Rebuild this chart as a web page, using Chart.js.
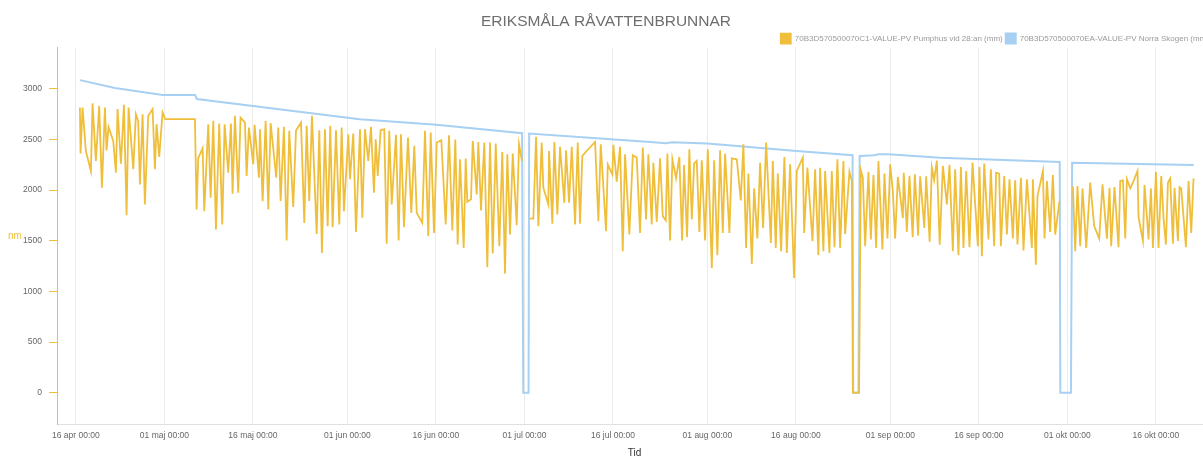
<!DOCTYPE html>
<html>
<head>
    <meta charset="utf-8">
    <title>Eriksmåla råvattenbrunnar</title>
    <script src="https://cdn.jsdelivr.net/npm/chart.js"></script>
    <style>
        html, body {
            margin: 0;
            padding: 0;
            overflow: hidden;
            background: #fff;
        }
        .container {
            position: relative;
            width: 1212px;
            height: 459px;
        }
    </style>
</head>
<body>
    <div class="container">
        <canvas id="myChart"></canvas>
    </div>

    <script>
        // x values are days since 16 apr 00:00
        const tickDays = [0, 15, 30, 46, 61, 76, 91, 107, 122, 138, 153, 168, 183];
        const tickLabels = ['16 apr 00:00', '01 maj 00:00', '16 maj 00:00', '01 jun 00:00', '16 jun 00:00',
            '01 jul 00:00', '16 jul 00:00', '01 aug 00:00', '16 aug 00:00', '01 sep 00:00',
            '16 sep 00:00', '01 okt 00:00', '16 okt 00:00'];
        const yTicks = [0, 500, 1000, 1500, 2000, 2500, 3000];

        // 70B3D570500070C1 - Pumphus vid 28:an
        const pumpDays = [
            0.68, 0.79, 1.13, 1.69, 2.54, 2.82, 3.39, 3.95, 4.41, 4.92,
            5.2, 5.53, 6.33, 6.78, 7.06, 7.63, 8.14, 8.59, 8.93, 9.72,
            10.17, 10.56, 10.85, 11.3, 11.69, 12.26, 13, 13.39, 13.67, 14.12,
            14.69, 15.14, 20.17, 20.45, 20.73, 21.47, 21.75, 22.43, 22.83, 23.28,
            23.73, 24.29, 24.8, 25.2, 25.81, 26.27, 26.55, 26.95, 27.51, 27.9,
            28.64, 28.93, 29.32, 30.05, 30.28, 31.02, 31.19, 31.64, 32.15, 32.6,
            33, 33.95, 34.29, 34.69, 35.25, 35.71, 36.15, 36.83, 37.29, 38.14,
            38.7, 39.1, 39.54, 40, 40.8, 41.24, 41.69, 42.2, 42.66, 43.1,
            43.5, 44.07, 44.63, 45.03, 45.42, 46.16, 46.44, 47, 47.46, 48.14,
            48.53, 48.98, 49.54, 50, 50.51, 50.8, 51.14, 51.64, 52.25, 52.66,
            53.1, 53.51, 54.24, 54.69, 55.08, 55.59, 56.27, 56.83, 57.34, 57.75,
            58.69, 59.15, 59.71, 60.12, 60.68, 61.14, 61.92, 62.66, 63.22, 63.78,
            64.29, 64.69, 65.08, 65.71, 66.05, 66.32, 66.95, 67.24, 67.92, 68.19,
            68.64, 69.2, 69.71, 70.17, 70.63, 71.14, 71.75, 72.25, 72.71, 73.1,
            73.56, 74.02, 74.69, 75.08, 75.59, 76.2, 76.95, 77.51, 77.97, 78.36,
            78.93, 79.2, 80.05, 80.17, 80.73, 81.07, 81.58, 82.03, 82.76, 83.05,
            83.56, 84.02, 84.58, 85.03, 85.42, 85.81, 86.66, 87.97, 88.53, 88.93,
            89.83, 90.12, 90.9, 91.07, 91.64, 92.2, 92.66, 93.05, 93.78, 94.36,
            95.03, 95.59, 96.05, 96.61, 97, 97.57, 97.85, 98.42, 98.98, 99.44,
            99.95, 100.22, 100.68, 101.07, 101.69, 102.25, 102.71, 103.05, 103.56, 103.95,
            104.36, 104.75, 105.2, 105.64, 106.05, 106.61, 107.07, 107.75, 108.14, 108.69,
            109.15, 109.61, 110, 110.73, 111.14, 111.98, 112.66, 113.1, 113.56, 113.95,
            114.53, 114.92, 115.47, 115.93, 116.44, 116.95, 117.75, 118.08, 118.59, 118.93,
            119.49, 120.05, 120.46, 121.02, 121.69, 122.15, 123.17, 123.39, 123.95, 124.81,
            125.25, 125.81, 126.1, 126.66, 126.95, 127.68, 128.08, 128.53, 129.03, 129.49,
            130.05, 130.34, 131.07, 131.47, 131.65, 132.7, 133, 133.34, 133.73, 134.29,
            134.69, 135.14, 135.59, 135.98, 136.66, 137, 137.51, 137.97, 138.42, 138.81,
            139.27, 140.12, 140.27, 140.8, 141.24, 141.78, 142.15, 142.71, 143.05, 143.76,
            144.07, 144.66, 145.03, 145.42, 145.88, 146.36, 146.9, 147.58, 148.02, 148.59,
            148.98, 149.54, 149.95, 150.39, 150.85, 151.41, 151.92, 152.83, 153.1, 153.51,
            153.9, 154.63, 155.03, 155.59, 155.93, 156.44, 156.73, 157.29, 157.75, 158.19,
            158.76, 159.15, 159.54, 160.12, 160.56, 161.14, 161.98, 162.15, 162.66, 162.93,
            163.85, 164.12, 164.53, 165.08, 165.54, 165.93, 166.66, 167.7, 168.93, 169.32,
            169.71, 170.17, 170.56, 171.19, 171.86, 172.54, 173.39, 173.95, 174.69, 175.14,
            175.42, 175.98, 176.66, 176.95, 177.41, 177.8, 178.08, 178.64, 179.2, 179.88,
            180.05, 180.8, 181.07, 181.75, 182.15, 182.49, 183, 183.44, 183.9, 184.29,
            184.69, 185.03, 185.42, 185.88, 186.15, 186.73, 187, 187.29, 188.08, 188.53,
            188.98, 189.37
        ];
        const pumpMm = [
            2815, 2360, 2815, 2386, 2188, 2855, 2287, 2832, 2023, 2815,
            2390, 2624, 2485, 2171, 2799, 2260, 2842, 1752, 2815, 2205,
            2749, 2683, 2056, 2749, 1858, 2733, 2799, 2205, 2650, 2327,
            2766, 2700, 2700, 1809, 2314, 2413, 1792, 2650, 1924, 2683,
            1611, 2657, 1660, 2650, 2171, 2657, 1963, 2733, 1973, 2716,
            2666, 2139, 2617, 2254, 2644, 2122, 2601, 1891, 2683, 1809,
            2660, 2122, 2617, 1891, 2624, 1502, 2584, 1832, 2584, 2666,
            1676, 2634, 1891, 2733, 1567, 2591, 1379, 2601, 1644, 2634,
            1634, 2591, 1660, 2617, 1792, 2551, 2106, 2558, 1587, 2601,
            1726, 2601, 2287, 2624, 1973, 2502, 2139, 2591, 2601, 1469,
            2584, 1858, 2545, 1502, 2551, 1634, 2518, 1775, 2436, 1775,
            1676, 2584, 1545, 2568, 1577, 2469, 2492, 1660, 2541, 1601,
            2498, 1462, 2304, 1429, 2310, 1884, 1908, 2485, 1957, 2475,
            1799, 2469, 1238, 2469, 1373, 2460, 1446, 2376, 1175, 2353,
            1561, 2360, 1653, 2452, 2287, null, 1720, 1716, 2525, 1644,
            2469, 2023, 1858, 2386, 1667, 2475, 1759, 2426, 1874, 2393,
            1874, 2426, 1660, 2469, 1667, 2337, 2393, 2475, 1693, 2452,
            1594, 2254, 2155, 2446, 2082, 2426, 1396, 2353, 1561, 2343,
            2320, 1577, 2419, 1710, 2353, 1660, 2270, 1686, 2313, 1743,
            1700, 2360, 1502, 2304, 2116, 2327, 1502, 2248, 1535, 2403,
            1710, 2260, 2287, 1587, 2294, 1502, 2403, 1231, 2294, 1356,
            2393, 1577, 2360, 1577, 2313, 2304, 1898, 2452, 1429, 2162,
            1270, 2016, 1521, 2270, 1627, 2469, 1478, 2287, 1429, 2162,
            1396, 2327, 1379, 2254, 1132, 2188, 2320, 1577, 2221, 1495,
            2205, 1356, 2221, 1396, 2188, 1379, 2188, 1436, 2304, 1429,
            2287, 1567, 2181, 2089, 0, 0, 2195, 2122, 1446, 2181,
            1513, 2149, 1429, 2287, 1413, 2162, 1521, 2254, 1990, 1521,
            2129, 1725, 2171, 1587, 2140, 1535, 2155, 1550, 2135, 1627,
            2135, 1490, 2221, 2100, 2290, 1460, 2238, 1858, 2248, 1396,
            2205, 1356, 2228, 1429, 2188, 1436, 2271, 1446, 2228, 1347,
            2261, 1513, 2205, 1446, 2171, 2162, 1446, 2139, 1561, 2106,
            1521, 2096, 1462, 2122, 1403, 2106, 1429, 2106, 1264, 1941,
            2188, 1521, 2089, 1587, 2149, 1561, 1891, null, 2035, 1396,
            2040, 1446, 2016, 1429, 2073, 1644, 1521, 2056, 1521, 2023,
            1446, 2030, 1436, 2089, 2096, 1521, 2106, 2016, 2089, 2188,
            1733, 1497, 2050, 1513, 2016, 1429, 2181, 1429, 2139, 1720,
            1462, 2073, 2115, 1470, 2023, 1497, 2030, 2016, 1436, 2089,
            1577, 2115
        ];

        // 70B3D570500070EA - Norra Skogen
        const skogenDays = [0.7, 6.6, 14.7, 20.2, 20.5, 48.1, 61.1, 75.6, 75.8, 76.7,
            76.8, 97.3, 100, 101, 107, 122.1, 131.6, 131.7, 132.6, 132.8,
            135.2, 136, 137.7, 146.4, 166.7, 166.8, 168.6, 168.8, 189.4];
        const skogenMm = [3085, 3007, 2938, 2938, 2898, 2700, 2644, 2561, 0, 0,
            2557, 2475, 2462, 2472, 2459, 2386, 2343, 0, 0, 2337,
            2343, 2353, 2353, 2320, 2277, 0, 0, 2270, 2247];

        const yellow = '#efbf3c';
        const blue = '#a7d0f2';
        const fontFamily = '"Liberation Sans", Arial, Helvetica, sans-serif';

        // horizontal y-axis title, like the original
        const nmLabel = {
            id: 'nmLabel',
            afterDraw(chart) {
                const { ctx, chartArea } = chart;
                ctx.save();
                ctx.font = '10px ' + fontFamily;
                ctx.fillStyle = yellow;
                ctx.textAlign = 'center';
                ctx.textBaseline = 'middle';
                ctx.fillText('nm', 15, (chartArea.top + chartArea.bottom) / 2);
                ctx.restore();
            }
        };

        const ctx = document.getElementById('myChart').getContext('2d');
        new Chart(ctx, {
            type: 'line',
            data: {
                datasets: [
                    {
                        label: '70B3D570500070C1-VALUE-PV Pumphus vid 28:an (mm)',
                        data: pumpDays.map((d, i) => ({ x: d, y: pumpMm[i] })),
                        borderColor: yellow,
                        backgroundColor: yellow,
                        borderWidth: 1.8,
                        pointRadius: 0,
                        tension: 0,
                        spanGaps: false
                    },
                    {
                        label: '70B3D570500070EA-VALUE-PV Norra Skogen (mm)',
                        data: skogenDays.map((d, i) => ({ x: d, y: skogenMm[i] })),
                        borderColor: blue,
                        backgroundColor: blue,
                        borderWidth: 2,
                        pointRadius: 0,
                        tension: 0
                    }
                ]
            },
            options: {
                responsive: true,
                maintainAspectRatio: false,
                animation: false,
                layout: {
                    padding: { left: 0, right: 0, top: 0, bottom: 0 }
                },
                plugins: {
                    title: {
                        display: true,
                        text: 'ERIKSMÅLA RÅVATTENBRUNNAR',
                        color: '#6e6e6e',
                        font: { family: fontFamily, size: 15.5, weight: 'normal' },
                        padding: { top: 12, bottom: 0 }
                    },
                    legend: {
                        position: 'top',
                        align: 'end',
                        maxHeight: 17,
                        labels: {
                            color: '#9a9a9a',
                            boxWidth: 10,
                            boxHeight: 10,
                            padding: 3,
                            font: { family: fontFamily, size: 8 }
                        }
                    },
                    tooltip: { enabled: false }
                },
                scales: {
                    x: {
                        type: 'linear',
                        min: -3.2,
                        max: 192.5,
                        afterBuildTicks: (scale) => {
                            scale.ticks = tickDays.map(v => ({ value: v }));
                        },
                        ticks: {
                            autoSkip: false,
                            maxRotation: 0,
                            padding: 7,
                            color: '#666',
                            font: { family: fontFamily, size: 8.5, lineHeight: 1 },
                            callback: (value) => {
                                const i = tickDays.indexOf(value);
                                return i >= 0 ? tickLabels[i] : '';
                            }
                        },
                        grid: {
                            color: '#ebebeb',
                            drawTicks: false
                        },
                        border: { color: '#e0e0e0' },
                        title: {
                            display: true,
                            text: 'Tid',
                            color: '#333',
                            font: { family: fontFamily, size: 10 },
                            padding: { top: 0, bottom: 0 }
                        }
                    },
                    y: {
                        type: 'linear',
                        min: -314,
                        max: 3406,
                        afterFit: (scale) => {
                            scale.width = 57;
                        },
                        afterBuildTicks: (scale) => {
                            scale.ticks = yTicks.map(v => ({ value: v }));
                        },
                        ticks: {
                            padding: 7,
                            color: '#666',
                            font: { family: fontFamily, size: 8.5 },
                            callback: (value) => String(value)
                        },
                        grid: {
                            drawOnChartArea: false,
                            color: yellow,
                            tickLength: 8
                        },
                        border: { color: yellow, width: 1 }
                    }
                }
            },
            plugins: [nmLabel]
        });
    </script>
</body>
</html>
